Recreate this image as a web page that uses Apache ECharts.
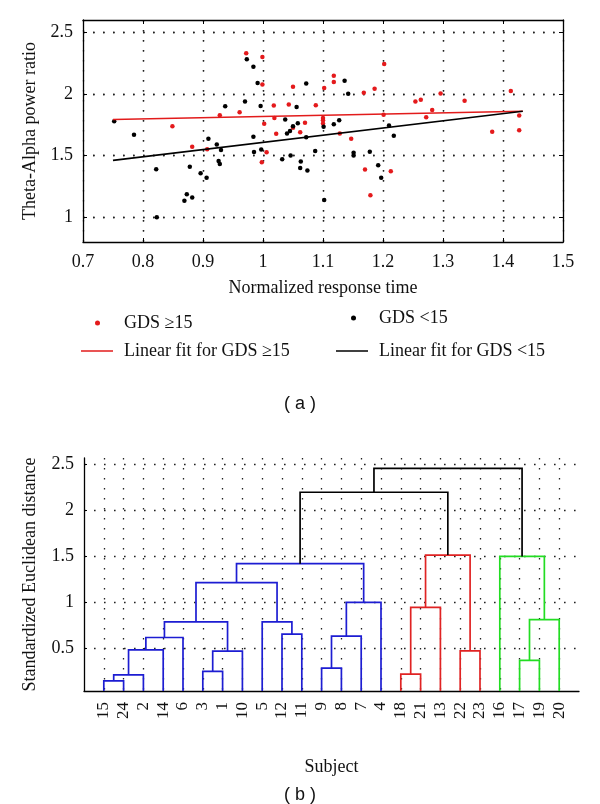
<!DOCTYPE html>
<html><head><meta charset="utf-8">
<script src="https://cdn.jsdelivr.net/npm/echarts@6/dist/echarts.min.js"></script>
<style>html,body{margin:0;padding:0;background:#fff}#c{width:600px;height:804px}</style>
</head><body><div id="c"></div>
<script>
// ---------- (a) scatter data ----------
const redX = [0.849,0.882,0.907,0.928,0.972,0.999,0.999,0.961,1.002,1.018,1.019,1.022,1.006,0.998,1.043,1.050,1.050,1.062,1.070,1.088,1.102,1.100,1.100,1.100,1.118,1.118,1.128,1.147,1.168,1.186,1.202,1.201,1.170,1.179,1.213,1.254,1.263,1.272,1.282,1.296,1.336,1.382,1.413,1.427,1.427];
const redY = [1.739,1.573,1.553,1.828,2.331,2.301,2.078,1.852,1.758,1.906,1.806,1.677,1.527,1.446,1.914,2.059,1.726,1.690,1.766,1.908,2.048,1.806,1.787,1.761,2.148,2.097,1.680,1.637,2.010,2.043,2.244,1.831,1.387,1.180,1.373,1.940,1.954,1.811,1.871,2.005,1.946,1.694,2.024,1.825,1.706];
const blackX = [0.752,0.785,0.822,0.823,0.869,0.873,0.882,0.878,0.896,0.906,0.909,0.923,0.930,0.926,0.928,0.937,0.973,0.984,0.991,0.970,0.996,0.984,0.985,0.997,1.032,1.046,1.037,1.040,1.045,1.050,1.058,1.056,1.072,1.072,1.063,1.062,1.074,1.087,1.101,1.102,1.118,1.127,1.136,1.142,1.151,1.151,1.178,1.192,1.197,1.210,1.218];
const blackY = [1.779,1.669,1.389,1.000,1.134,1.188,1.161,1.411,1.357,1.320,1.637,1.591,1.545,1.457,1.432,1.900,2.282,2.220,2.089,1.940,1.903,1.653,1.529,1.551,1.470,1.502,1.793,1.680,1.699,1.739,1.763,1.895,2.086,1.650,1.452,1.400,1.379,1.537,1.734,1.140,1.755,1.787,2.107,2.002,1.524,1.502,1.532,1.422,1.320,1.744,1.661];
const redFitX = [0.75, 1.433];
const redFitY = [1.793, 1.860];
const blackFitX = [0.75, 1.433];
const blackFitY = [1.462, 1.860];
const scatterXGrid = [0.8,0.9,1,1.1,1.2,1.3,1.4];
const scatterYTicks = [1,1.5,2,2.5];
const seriesNames = ['GDS \u226515','GDS <15','Linear fit for GDS \u226515','Linear fit for GDS <15'];

// ---------- (b) dendrogram data ----------
const leafOrder = [15,24,2,14,6,3,1,10,5,12,11,9,8,7,4,18,21,13,22,23,16,17,19,20];
// merges: [childA, childB, height]; subjects are 1..24, merge k creates node 25+k
const merges = [
  [15,24,0.146],[25,2,0.211],[18,21,0.218],[3,1,0.248],[9,8,0.283],[17,19,0.367],
  [28,10,0.468],[22,23,0.471],[26,14,0.482],[33,6,0.616],[29,7,0.630],[12,11,0.652],
  [34,31,0.785],[5,36,0.785],[30,20,0.811],[27,13,0.944],[35,4,0.998],[37,38,1.211],
  [42,41,1.417],[16,39,1.496],[40,32,1.511],[43,45,2.193],[46,44,2.452]
];
const dendroYTicks = [0.5,1,1.5,2,2.5];
const groupColors = ['#1d1dd2','#e02323','#22dd22'];

// ---------- dendrogram layout (MATLAB-style) ----------
const yMinD = 0.035, yMaxD = 2.565;
const nLeaf = leafOrder.length;
const nodeX = {}, nodeH = {};
leafOrder.forEach((s,i)=>{ nodeX[s] = i+1; nodeH[s] = yMinD; });
merges.forEach((m,k)=>{ const id = nLeaf+1+k; nodeX[id] = (nodeX[m[0]]+nodeX[m[1]])/2; nodeH[id] = m[2]; });
const maxH = Math.max(...merges.map(m=>m[2]));
const thr = 0.7*maxH;
const parent = {};
merges.forEach((m,k)=>{ parent[m[0]] = nLeaf+1+k; parent[m[1]] = nLeaf+1+k; });
const roots = [];
merges.forEach((m,k)=>{ const id=nLeaf+1+k; if (m[2] < thr && (!parent[id] || nodeH[parent[id]] >= thr)) roots.push(id); });
roots.sort((a,b)=>nodeX[a]-nodeX[b]);
function colorOf(id){ let n=id; while(n){ const r=roots.indexOf(n); if(r>=0) return groupColors[r]; n=parent[n]; } return '#000'; }
const linkData = merges.map((m,k)=>{
  const id = nLeaf+1+k, a=m[0], b=m[1], h=m[2];
  return { coords: [[nodeX[a],nodeH[a]],[nodeX[a],h],[nodeX[b],h],[nodeX[b],nodeH[b]]],
           lineStyle: { color: h < thr ? colorOf(id) : '#000' } };
});
const leafPositions = leafOrder.map((s,i)=>i+1);

// ---------- chart ----------
const FONT = 'Liberation Serif';
const TXT = '#111';
const dotted = () => ({ show:true, lineStyle:{ color:'#222', width:1.3, type:[1.6,8.4] } });
const chart = echarts.init(document.getElementById('c'), null, {renderer:'canvas'});
const zip = (xs,ys)=>xs.map((x,i)=>[x,ys[i]]);
function legendAt(name, left, top, iconW, iconH, icon, textPad){
  return { data:[name], left:left, top:top, padding:0, orient:'horizontal', selectedMode:false,
    itemWidth:iconW, itemHeight:iconH, icon:icon,
    textStyle:{ fontFamily:FONT, fontSize:18, color:TXT, padding:[0,0,0,textPad] } };
}
const boxAxisLine = () => ({ show:true, onZero:false, lineStyle:{ color:'#000', width:1.3 } });
chart.setOption({
  animation:false,
  backgroundColor:'#fff',
  grid:[
    { left:83, top:20, width:480, height:222 },
    { left:84, top:458, width:495, height:233 },
    { left:83, top:20, width:480, height:222 }
  ],
  xAxis:[
    { gridIndex:0, type:'value', min:0.7, max:1.5, interval:0.1, position:'bottom',
      axisLine: boxAxisLine(),
      axisTick:{ show:true, inside:true, length:4, lineStyle:{ color:'#000' } },
      axisLabel:{ fontFamily:FONT, fontSize:18, color:TXT, margin:11 },
      splitLine: dotted(),
      name:'Normalized response time', nameLocation:'middle', nameGap:37,
      nameTextStyle:{ fontFamily:FONT, fontSize:18, color:TXT } },
    { gridIndex:1, type:'value', min:0, max:nLeaf+1,
      axisLine:{ onZero:false, lineStyle:{ color:'#000', width:1.3 } },
      axisTick:{ show:false, customValues: leafPositions },
      axisLabel:{ rotate:90, fontFamily:FONT, fontSize:17, color:TXT, margin:11, customValues: leafPositions,
        formatter: v => String(leafOrder[Math.round(v)-1]) },
      splitLine: dotted(),
      name:'Subject', nameLocation:'middle', nameGap:67,
      nameTextStyle:{ fontFamily:FONT, fontSize:18, color:TXT } },
    { gridIndex:2, type:'value', min:0.7, max:1.5, position:'top',
      axisLine: boxAxisLine(),
      axisTick:{ show:true, inside:true, length:4, lineStyle:{ color:'#000' }, customValues: scatterXGrid },
      axisLabel:{ show:false }, splitLine: dotted() }
  ],
  yAxis:[
    { gridIndex:0, type:'value', min:0.8, max:2.6, position:'left',
      axisLine: boxAxisLine(),
      axisTick:{ show:true, inside:true, length:4, lineStyle:{ color:'#000' }, customValues: scatterYTicks },
      axisLabel:{ fontFamily:FONT, fontSize:18, color:TXT, margin:10, customValues: scatterYTicks },
      splitLine: dotted(),
      name:'Theta-Alpha power ratio', nameLocation:'middle', nameGap:43, nameRotate:90,
      nameTextStyle:{ fontFamily:FONT, fontSize:18, color:TXT } },
    { gridIndex:1, type:'value', min:yMinD, max:yMaxD, position:'left',
      axisLine:{ show:true, onZero:false, lineStyle:{ color:'#000', width:1.3 } },
      axisTick:{ show:true, inside:true, length:3, lineStyle:{ color:'#000' }, customValues: dendroYTicks },
      axisLabel:{ fontFamily:FONT, fontSize:18, color:TXT, margin:10, customValues: dendroYTicks },
      splitLine: dotted(),
      name:'Standardized Euclidean distance', nameLocation:'middle', nameGap:45, nameRotate:90,
      nameTextStyle:{ fontFamily:FONT, fontSize:18, color:TXT } },
    { gridIndex:2, type:'value', min:0.8, max:2.6, position:'right',
      axisLine: boxAxisLine(),
      axisTick:{ show:true, inside:true, length:4, lineStyle:{ color:'#000' }, customValues: scatterYTicks },
      axisLabel:{ show:false }, splitLine: dotted() }
  ],
  legend:[
    legendAt(seriesNames[0], 95, 314, 5, 5, 'circle', 19),
    legendAt(seriesNames[1], 351, 309, 5, 5, 'circle', 18),
    legendAt(seriesNames[2], 81, 342, 32, 1.5, 'rect', 6),
    legendAt(seriesNames[3], 336, 342, 32, 1.5, 'rect', 6)
  ],
  series:[
    { name:seriesNames[2], type:'line', xAxisIndex:0, yAxisIndex:0, data:zip(redFitX,redFitY),
      showSymbol:false, symbol:'none', lineStyle:{ color:'#e21b1b', width:1.6 }, itemStyle:{ color:'#e21b1b' } },
    { name:seriesNames[3], type:'line', xAxisIndex:0, yAxisIndex:0, data:zip(blackFitX,blackFitY),
      showSymbol:false, symbol:'none', lineStyle:{ color:'#000', width:1.6 }, itemStyle:{ color:'#000' } },
    { name:seriesNames[0], type:'scatter', xAxisIndex:0, yAxisIndex:0, data:zip(redX,redY),
      symbol:'circle', symbolSize:4.5, itemStyle:{ color:'#e41a1c', opacity:1 } },
    { name:seriesNames[1], type:'scatter', xAxisIndex:0, yAxisIndex:0, data:zip(blackX,blackY),
      symbol:'circle', symbolSize:4.5, itemStyle:{ color:'#000', opacity:1 } },
    { name:'dendrogram', type:'lines', coordinateSystem:'cartesian2d', xAxisIndex:1, yAxisIndex:1,
      polyline:true, data:linkData, lineStyle:{ width:1.7, opacity:1 }, silent:true }
  ],
  graphic:[
    { type:'text', left:'center', top:395, style:{ text:'( a )', font:'18px "Liberation Sans"', fill:TXT } },
    { type:'text', left:'center', top:786, style:{ text:'( b )', font:'18px "Liberation Sans"', fill:TXT } }
  ]
});
</script></body></html>
